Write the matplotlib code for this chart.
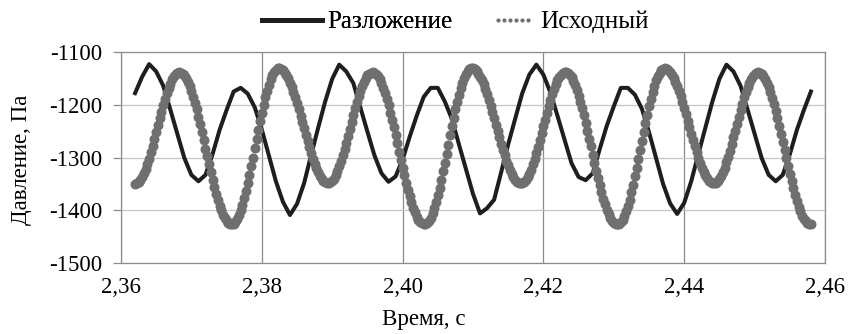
import matplotlib.pyplot as plt
import numpy as np
from matplotlib.lines import Line2D

# --- data ---
# "Исходный" (gray dots), sampled every 0.00025 s from 2.362 s
gray_t0, gray_dt = 2.362, 0.00025
gray_vals = [
    -1350, -1349, -1347, -1343, -1337, -1330, -1322, -1312, -1302, -1290, -1278, -1265, -1252,
    -1239, -1226, -1213, -1200, -1189, -1178, -1168, -1160, -1152, -1146, -1142, -1139, -1138,
    -1139, -1141, -1144, -1150, -1156, -1165, -1174, -1185, -1197, -1209, -1223, -1237, -1252,
    -1267, -1283, -1298, -1313, -1328, -1342, -1356, -1369, -1380, -1391, -1400, -1409, -1415,
    -1421, -1424, -1427, -1427,
    -1426, -1422, -1417, -1409, -1400, -1390, -1377, -1364, -1349, -1333, -1317, -1300, -1282,
    -1265, -1248, -1231, -1215, -1200, -1186, -1173, -1162, -1152, -1144, -1138, -1134, -1131,
    -1131, -1132, -1135, -1139, -1144, -1150, -1158, -1166, -1176, -1186, -1197, -1209, -1221,
    -1233, -1245, -1257, -1269, -1281, -1292, -1302, -1312, -1320, -1328, -1335, -1340, -1344,
    -1347, -1349,
    -1349, -1347, -1344, -1340, -1334, -1326, -1317, -1307, -1296, -1284, -1272, -1259, -1246,
    -1233, -1220, -1207, -1195, -1184, -1174, -1164, -1156, -1150, -1144, -1141, -1139, -1138,
    -1139, -1142, -1146, -1152, -1159, -1168, -1178, -1189, -1201, -1215, -1229, -1243, -1258,
    -1273, -1289, -1304, -1319, -1334, -1348, -1361, -1373, -1385, -1395, -1404, -1412, -1418,
    -1422, -1425, -1427, -1427,
    -1424, -1420, -1414, -1406, -1396, -1385, -1372, -1358, -1343, -1326, -1310, -1293, -1276,
    -1258, -1241, -1225, -1209, -1194, -1181, -1168, -1158, -1149, -1141, -1136, -1132, -1131,
    -1131, -1133, -1136, -1141, -1147, -1153, -1161, -1170, -1180, -1191, -1202, -1213, -1225,
    -1238, -1250, -1262, -1274, -1285, -1296, -1306, -1315, -1324, -1331, -1337, -1342, -1346,
    -1348, -1349,
    -1348, -1346, -1343, -1337, -1331, -1323, -1313, -1303, -1292, -1280, -1267, -1254, -1241,
    -1228, -1215, -1202, -1191, -1180, -1170, -1161, -1153, -1147, -1143, -1140, -1138, -1138,
    -1140, -1144, -1148, -1155, -1163, -1172, -1183, -1194, -1207, -1220, -1234, -1249, -1264,
    -1279, -1295, -1310, -1325, -1339, -1353, -1366, -1378, -1389, -1399, -1407, -1414, -1420,
    -1424, -1426,
    -1427, -1426, -1423, -1418, -1411, -1402, -1392, -1380, -1366, -1352, -1336, -1320, -1303,
    -1286, -1269, -1251, -1234, -1219, -1203, -1189, -1176, -1164, -1154, -1146, -1139, -1134,
    -1132, -1131,
    -1132, -1134, -1138, -1143, -1149, -1156, -1165, -1174, -1184, -1195, -1206, -1218, -1230,
    -1242, -1255, -1267, -1278, -1290, -1300, -1310, -1319, -1328, -1334, -1339, -1344, -1347,
    -1349, -1349,
    -1348, -1345, -1341, -1335, -1328, -1319, -1309, -1299, -1287, -1274, -1262, -1249, -1236,
    -1223, -1210, -1198, -1186, -1176, -1166, -1158, -1151, -1145, -1141, -1139, -1138, -1139,
    -1141, -1145, -1151, -1158, -1166, -1176, -1187, -1199, -1212, -1226, -1240, -1255, -1270,
    -1286, -1301, -1316, -1331, -1345, -1358, -1371, -1382, -1393, -1402, -1410, -1417, -1421,
    -1425, -1427, -1427,
]

# "Разложение" (black line), sampled every 0.001 s from 2.362 s
black_t0, black_dt = 2.362, 0.001
black_vals = [
    -1178, -1147, -1123, -1137, -1164, -1209, -1255, -1301, -1333, -1345,
    -1333, -1294, -1248, -1210, -1175, -1168, -1179, -1205, -1247, -1296,
    -1345, -1384, -1409, -1388, -1349, -1296, -1244, -1194, -1151, -1124,
    -1137, -1159, -1205, -1251, -1296, -1330, -1346, -1336, -1304, -1261,
    -1221, -1185, -1168, -1168, -1194, -1227, -1275, -1322, -1369, -1406,
    -1396, -1380, -1328, -1275, -1226, -1178, -1143,
    -1124, -1143, -1177, -1221, -1266, -1311, -1337, -1343, -1330, -1284,
    -1240, -1203, -1168, -1168, -1181, -1208, -1252, -1301, -1350, -1387,
    -1407, -1386, -1345, -1294, -1244, -1194, -1151, -1124,
    -1137, -1164, -1209, -1255, -1301, -1333, -1345, -1333, -1294, -1248,
    -1210, -1175,
]

x_ticks = [2.36, 2.38, 2.40, 2.42, 2.44, 2.46]
x_labels = ['2,36', '2,38', '2,40', '2,42', '2,44', '2,46']
y_ticks = [-1500, -1400, -1300, -1200, -1100]
y_labels = ['-1500', '-1400', '-1300', '-1200', '-1100']

gray_t = gray_t0 + gray_dt * np.arange(len(gray_vals))
black_t = black_t0 + black_dt * np.arange(len(black_vals))

plt.rcParams['font.family'] = 'serif'
plt.rcParams['font.serif'] = ['Liberation Serif', 'DejaVu Serif']
FS = 16.5
LEG_FS = 18
BLACK = '#1e1e1e'
GRAY = '#6f6f6f'

fig = plt.figure(figsize=(8.48, 3.34), dpi=100)
ax = fig.add_axes([121 / 848, 1 - 263 / 334, 704 / 848, 211 / 334])

ax.plot(black_t, black_vals, color=BLACK, lw=2.9, zorder=3)
ax.plot(gray_t, gray_vals, 'o', ms=7.2, color=GRAY, mec='none', zorder=4)

ax.set_xlim(2.36, 2.46)
ax.set_ylim(-1500, -1100)
ax.set_xticks(x_ticks)
ax.set_xticklabels(x_labels)
ax.set_yticks(y_ticks)
ax.set_yticklabels(y_labels)

ax.grid(axis='x', color='#8c8c8c', lw=0.9)
ax.grid(axis='y', color='#c4c4c4', lw=0.9)
ax.set_axisbelow(True)
for sp in ax.spines.values():
    sp.set_color('#8c8c8c')
    sp.set_linewidth(0.9)

ax.tick_params(axis='x', length=0, pad=10, labelsize=FS)
ax.tick_params(axis='y', length=5.5, width=0.9, color='#8c8c8c', pad=8, labelsize=FS)

fig.text(22 / 848, 1 - 160 / 334, 'Давление, Па', rotation=90,
         ha='center', va='center', fontsize=FS)
fig.text(424 / 848, 1 - 319 / 334, 'Время, с', ha='center', va='center', fontsize=FS)

# two separate legends so each handle gets its own length
leg_kw = dict(loc='center left', frameon=False, fontsize=LEG_FS, borderpad=0,
              borderaxespad=0, handletextpad=0.2)
leg1 = fig.legend([Line2D([], [], color=BLACK, lw=3.6)], ['Разложение'],
                  bbox_to_anchor=(262 / 848, 1 - 22 / 334), handlelength=2.4, **leg_kw)
fig.add_artist(leg1)
fig.legend([Line2D([], [], ls='none', marker='o', ms=3.0, color=GRAY, mec='none')],
           ['Исходный'], bbox_to_anchor=(490 / 848, 1 - 22 / 334),
           handlelength=1.8, numpoints=6, **leg_kw)

fig.savefig('out.png', dpi=100)
